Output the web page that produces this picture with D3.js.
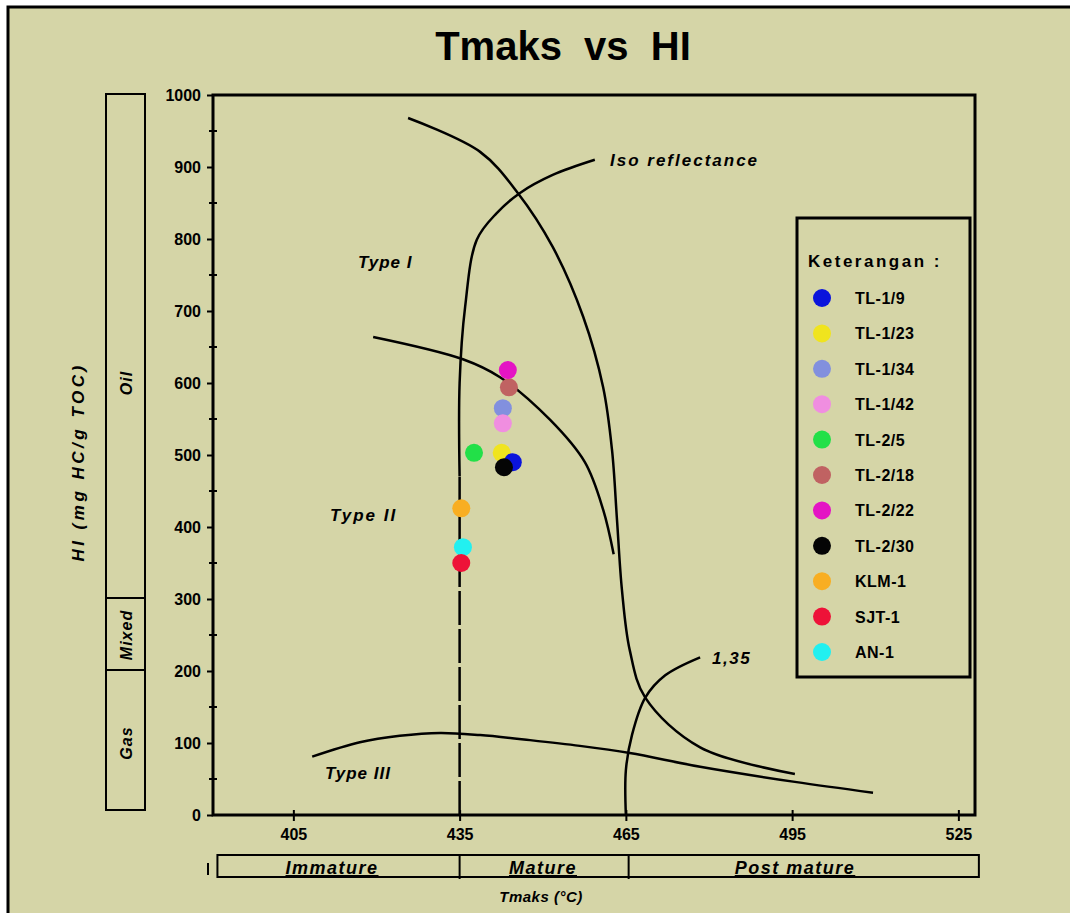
<!DOCTYPE html>
<html>
<head>
<meta charset="utf-8">
<script src="https://cdn.jsdelivr.net/npm/d3@7"></script>
<style>
  body { margin: 0; background: #fff; }
  text { font-family: "Liberation Sans", Arial, sans-serif; font-weight: bold; fill: #000; }
</style>
</head>
<body>
<div id="vis"></div>
<script>
// main.js
const W = 1070, H = 913;

// ---- data ----
const samples = ["TL-1/9", "TL-1/23", "TL-1/34", "TL-1/42", "TL-2/5", "TL-2/18",
                 "TL-2/22", "TL-2/30", "KLM-1", "SJT-1", "AN-1"];
const sampleColors = ["#0a14dc", "#f0e41e", "#8290de", "#f08ee0", "#22e048", "#c06262",
                      "#e414c4", "#050505", "#f8ae22", "#ee1238", "#22f0f0"];
const tmaxValues = [444.6, 442.6, 442.8, 442.8, 437.6, 443.9, 443.7, 443.0, 435.3, 435.3, 435.6];
const hiValues   = [490, 503, 565, 544, 503, 594, 618, 483, 426, 350, 372];
// order the dots are painted in (later = on top)
const drawOrder = ["TL-1/23", "TL-1/9", "TL-2/30", "TL-1/34", "TL-1/42", "TL-2/18", "TL-2/22",
                   "TL-2/5", "KLM-1", "AN-1", "SJT-1"];

const xTicks = [405, 435, 465, 495, 525];
const yTicks = [0, 100, 200, 300, 400, 500, 600, 700, 800, 900, 1000];

// kerogen type curves as [Tmax, HI]
const typeI   = [[425.7, 968], [438.7, 921], [445.5, 864], [451.8, 789], [457.3, 692], [460.9, 594],
                 [462.5, 507], [463.4, 410], [464.3, 312], [465.7, 229], [468.5, 163], [478.4, 94], [495.5, 57]];
const typeII  = [[419.4, 664], [435.6, 633], [442.3, 608], [451.3, 549], [457.6, 490], [460.9, 424], [462.8, 362]];
const typeIII = [[408.4, 81], [417, 101], [424.2, 110], [431.5, 114], [438.7, 111], [447.7, 104],
                 [456.7, 96], [465.7, 86], [478.4, 67], [495.5, 46], [509.6, 31]];
const isoSolid  = [[435, 470], [435, 600], [436, 706], [438.1, 799], [441.7, 836], [445.9, 864], [451.8, 889], [459.4, 910]];
const isoDashed = [[435, 0], [435, 470]];
const iso135    = [[465, 0], [465, 62], [466.1, 111], [468.5, 163], [472.1, 194], [478.4, 219]];

const hcZones = [{ name: "Oil", lo: 300, hi: 1000 }, { name: "Mixed", lo: 200, hi: 300 }, { name: "Gas", lo: 0, hi: 200 }];
const maturity = [{ name: "Immature", lo: 391.3, hi: 435 }, { name: "Mature", lo: 435, hi: 465.5 },
                  { name: "Post mature", lo: 465.5, hi: 528.7 }];

// ---- svg ----
const svg = d3.select("#vis").append("svg")
    .attr("width", W)
    .attr("height", H);

// frame + background
svg.append("rect").attr("x", 0).attr("y", 0).attr("width", W).attr("height", H).attr("fill", "#fff");
svg.append("rect")
    .attr("x", 8).attr("y", 7).attr("width", W).attr("height", H)
    .attr("fill", "#d5d5a7")
    .attr("stroke", "#000").attr("stroke-width", 3);

svg.append("text")
    .attr("x", 563).attr("y", 60)
    .attr("text-anchor", "middle")
    .style("font-size", "40px")
    .style("white-space", "pre")
    .text("Tmaks  vs  HI");

// Layout
const plotL = 213, plotR = 975, plotT = 95, plotB = 815;

const x = d3.scaleLinear().domain([390.5, 528]).range([plotL, plotR]);
const y = d3.scaleLinear().domain([0, 1000]).range([plotB, plotT]);

// axes
const yAxis = svg.append("g")
    .attr("transform", "translate(" + plotL + ",0)")
    .call(d3.axisLeft(y).tickValues(yTicks).tickSize(6).tickPadding(6).tickFormat(d3.format("d")));
yAxis.select(".domain").remove();
yAxis.selectAll("text").style("font-size", "16px").style("font-family", "Liberation Sans, Arial");
yAxis.selectAll("line").attr("stroke-width", 2);

// minor y ticks
svg.append("g").selectAll("line")
    .data(d3.range(50, 1000, 100))
    .enter().append("line")
    .attr("x1", plotL - 4).attr("x2", plotL + 4)
    .attr("y1", d => y(d)).attr("y2", d => y(d))
    .attr("stroke", "#000").attr("stroke-width", 2);

const xAxis = svg.append("g")
    .attr("transform", "translate(0," + plotB + ")")
    .call(d3.axisBottom(x).tickValues(xTicks).tickSize(6).tickPadding(8).tickFormat(d3.format("d")));
xAxis.select(".domain").remove();
xAxis.selectAll("text").style("font-size", "16px").style("font-family", "Liberation Sans, Arial");
xAxis.selectAll("line").attr("y1", -5).attr("stroke-width", 2);

// plot box
svg.append("rect")
    .attr("x", plotL).attr("y", plotT)
    .attr("width", plotR - plotL).attr("height", plotB - plotT)
    .attr("fill", "none").attr("stroke", "#000").attr("stroke-width", 3);

// HC zones on the left
const zoneX = 106, zoneW = 39;
const zones = svg.append("g");
zones.selectAll("rect")
    .data(hcZones)
    .enter().append("rect")
    .attr("x", zoneX).attr("width", zoneW)
    .attr("y", d => y(d.hi) - 1)
    .attr("height", d => y(d.lo) - y(d.hi) - (d.lo === 0 ? 4 : 0))
    .attr("fill", "none").attr("stroke", "#000").attr("stroke-width", 2);
zones.selectAll("text")
    .data(hcZones)
    .enter().append("text")
    .attr("transform", d => {
        const cy = d.name === "Oil" ? y(600) : (y(d.lo) + y(d.hi)) / 2;
        return "translate(" + (zoneX + zoneW / 2 + 6) + "," + cy + ") rotate(-90)";
    })
    .attr("text-anchor", "middle")
    .style("font-size", "16px")
    .style("letter-spacing", "1px")
    .style("font-style", "italic")
    .text(d => d.name);

svg.append("text")
    .attr("transform", "translate(84,462) rotate(-90)")
    .attr("text-anchor", "middle")
    .style("font-size", "17px")
    .style("letter-spacing", "3.5px")
    .style("font-style", "italic")
    .text("HI (mg HC/g TOC)");

// maturity band under the axis
const bandTop = 855, bandH = 22;
const band = svg.append("g");
band.append("rect")
    .attr("x", x(maturity[0].lo)).attr("y", bandTop)
    .attr("width", x(maturity[2].hi) - x(maturity[0].lo)).attr("height", bandH)
    .attr("fill", "none").attr("stroke", "#000").attr("stroke-width", 2);
band.selectAll("line")
    .data(maturity.slice(1))
    .enter().append("line")
    .attr("x1", d => x(d.lo)).attr("x2", d => x(d.lo))
    .attr("y1", bandTop).attr("y2", bandTop + bandH + 2)
    .attr("stroke", "#000").attr("stroke-width", 2);
const bandLabelX = [332, 543, 795];
band.selectAll("text")
    .data(maturity)
    .enter().append("text")
    .attr("x", (d, i) => bandLabelX[i])
    .attr("y", bandTop + bandH - 3)
    .attr("text-anchor", "middle")
    .style("font-size", "18px")
    .style("letter-spacing", "1.5px")
    .style("font-style", "italic")
    .style("text-decoration", "underline")
    .text(d => d.name);
band.append("line")
    .attr("x1", 208).attr("x2", 208).attr("y1", bandTop + 8).attr("y2", bandTop + 20)
    .attr("stroke", "#000").attr("stroke-width", 2);

svg.append("text")
    .attr("x", 541).attr("y", 902)
    .attr("text-anchor", "middle")
    .style("font-size", "15px")
    .style("letter-spacing", "0.5px")
    .style("font-style", "italic")
    .text("Tmaks (°C)");

// curves
const line = d3.line()
    .x(d => x(d[0]))
    .y(d => y(d[1]))
    .curve(d3.curveCatmullRom.alpha(0.5));

const curveLayer = svg.append("g")
    .attr("fill", "none").attr("stroke", "#000").attr("stroke-width", 2.5);

[typeI, typeII, typeIII, isoSolid, iso135].forEach(c => {
    curveLayer.append("path").attr("d", line(c));
});
curveLayer.append("path")
    .attr("d", line(isoDashed))
    .attr("stroke-dasharray", "34 4");

// curve labels
const curveLabels = [
    { t: "Type I", x: 358, y: 268, ls: 1 },
    { t: "Type II", x: 330, y: 521, ls: 2 },
    { t: "Type III", x: 325, y: 779, ls: 1 },
    { t: "Iso reflectance", x: 610, y: 166, ls: 2 },
    { t: "1,35", x: 712, y: 664, ls: 1.5 }
];
svg.append("g").selectAll("text")
    .data(curveLabels)
    .enter().append("text")
    .attr("x", d => d.x).attr("y", d => d.y)
    .style("font-size", "17px")
    .style("letter-spacing", d => d.ls + "px")
    .style("font-style", "italic")
    .text(d => d.t);

// sample points
const pts = samples.map((s, i) => ({ name: s, color: sampleColors[i], t: tmaxValues[i], hi: hiValues[i] }));
const ordered = drawOrder.map(n => pts.find(p => p.name === n));

svg.append("g").selectAll("circle")
    .data(ordered)
    .enter().append("circle")
    .attr("cx", d => x(d.t))
    .attr("cy", d => y(d.hi))
    .attr("r", 9)
    .attr("fill", d => d.color);

// legend
const lg = svg.append("g").attr("transform", "translate(797,218)");
lg.append("rect")
    .attr("width", 173).attr("height", 459)
    .attr("fill", "none").attr("stroke", "#000").attr("stroke-width", 3);
lg.append("text")
    .attr("x", 11).attr("y", 49)
    .style("font-size", "17px")
    .style("letter-spacing", "2.5px")
    .style("white-space", "pre")
    .text("Keterangan :");

const item = lg.selectAll("g.item")
    .data(pts)
    .enter().append("g")
    .attr("class", "item")
    .attr("transform", (d, i) => "translate(0," + (80 + i * 35.4) + ")");
item.append("circle")
    .attr("cx", 25).attr("cy", 0).attr("r", 9)
    .attr("fill", d => d.color);
item.append("text")
    .attr("x", 58).attr("y", 6)
    .style("font-size", "16px")
    .style("letter-spacing", "0.5px")
    .text(d => d.name);
</script>
</body>
</html>
